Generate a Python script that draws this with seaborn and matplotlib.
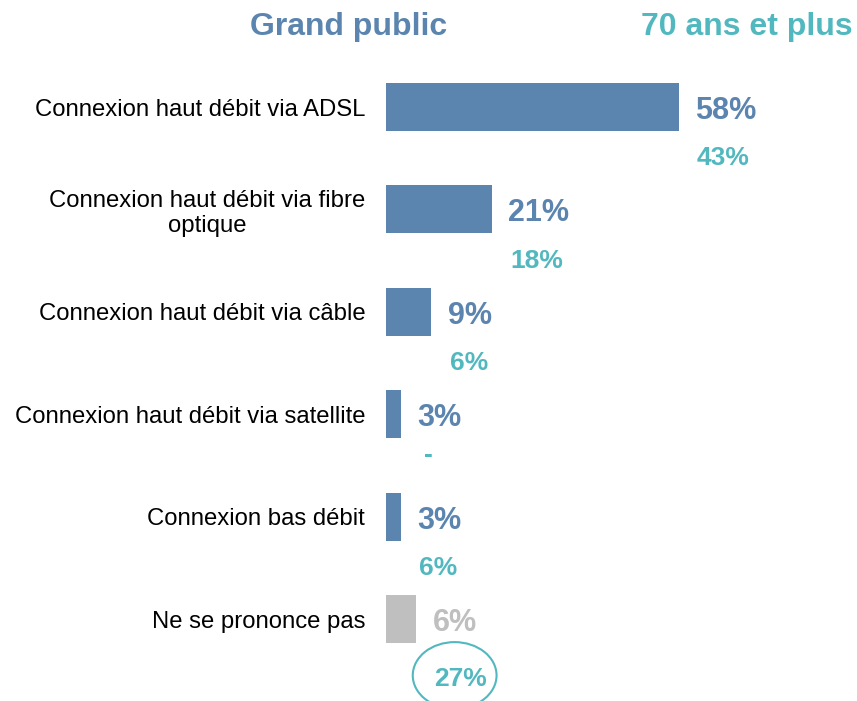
import numpy as np
import pandas as pd
import matplotlib
matplotlib.use("Agg")
import matplotlib.pyplot as plt
from matplotlib.patches import Ellipse
import seaborn as sns

# Data
categories = ["Connexion haut débit via ADSL",
              "Connexion haut débit via fibre\noptique",
              "Connexion haut débit via câble",
              "Connexion haut débit via satellite",
              "Connexion bas débit",
              "Ne se prononce pas"]
grand_public = [58, 21, 9, 3, 3, 6]
senior_labels = ["43%", "18%", "6%", "-", "6%", "27%"]
is_nsp = [False, False, False, False, False, True]

blue = "#5B85AF"
teal = "#52B8BF"
grey = "#BFBFBF"

sns.set_style("white")
plt.rcParams['font.family'] = ['Liberation Sans', 'DejaVu Sans']

df = pd.DataFrame({"categorie": categories, "valeur": grand_public})
bar_colors = [grey if n else blue for n in is_nsp]

fig = plt.figure(figsize=(8.57, 7.01), dpi=100)
ax = fig.add_axes([386 / 857, 0, 471 / 857, 1])

sns.barplot(data=df, x="valeur", y="categorie", hue="categorie",
            palette=bar_colors, legend=False, width=0.47, ax=ax,
            saturation=1, edgecolor="none")

ax.set_xlim(0, 93.3)
ax.set_ylim(5.80, -1.045)
sns.despine(ax=ax, left=True, bottom=True)
ax.set_xticks([])
ax.set_xlabel("")
ax.set_ylabel("")
ax.tick_params(axis="y", length=0, pad=15)
for lab in ax.get_yticklabels():
    lab.set_fontsize(17.2)
    lab.set_multialignment("center")
    lab.set_color("black")

# value labels: grand public next to the bar, 70+ just below
for i, v in enumerate(grand_public):
    c = grey if is_nsp[i] else blue
    ax.text(v + 3.2, i + 0.117, f"{v}%", color=c, fontsize=22,
            fontweight="bold", ha="left", va="baseline")
    s = senior_labels[i]
    if s == "-":
        ax.text(v + 5.3, i + 0.47, s, color=teal, fontsize=19,
                fontweight="bold", ha="center", va="baseline")
    elif is_nsp[i]:
        ax.text(v + 3.6, i + 0.65, s, color=teal, fontsize=19,
                fontweight="bold", ha="left", va="baseline")
        ax.add_patch(Ellipse((v + 7.6, i + 0.55), 16.6, 0.65,
                             fill=False, edgecolor=teal, linewidth=1.5,
                             clip_on=False))
    else:
        ax.text(v + 3.6, i + 0.57, s, color=teal, fontsize=19,
                fontweight="bold", ha="left", va="baseline")

fig.text(349 / 857, 1 - 35 / 701, "Grand public", color=blue, fontsize=23,
         fontweight="bold", ha="center", va="baseline")
fig.text(747 / 857, 1 - 35 / 701, "70 ans et plus", color=teal, fontsize=23,
         fontweight="bold", ha="center", va="baseline")

fig.savefig("out.png", dpi=100)
